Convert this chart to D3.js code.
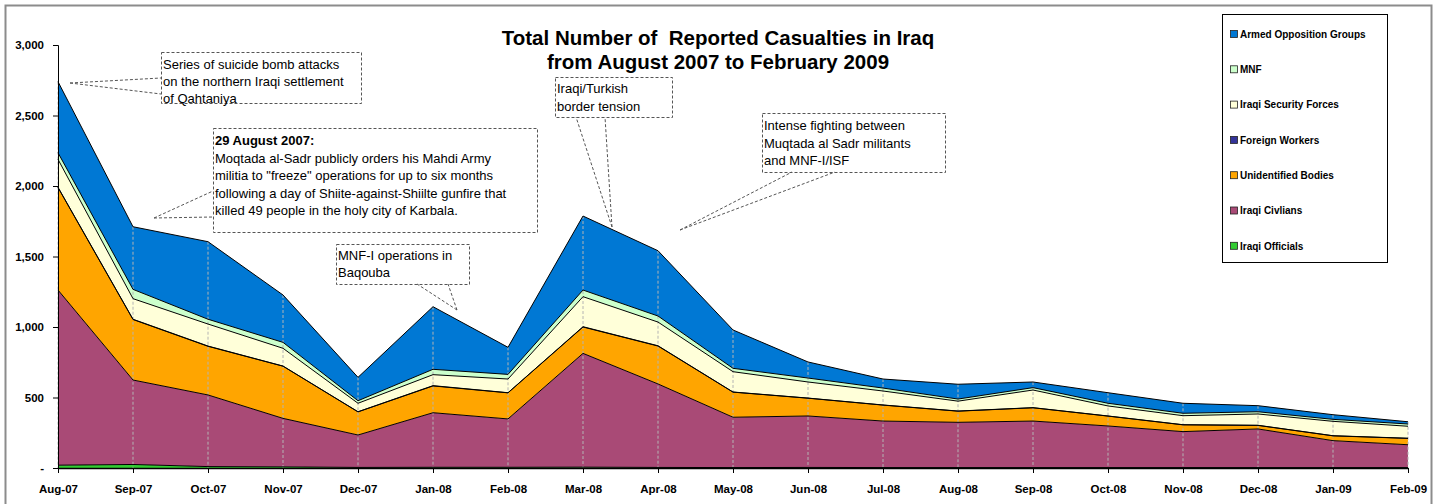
<!DOCTYPE html>
<html><head><meta charset="utf-8">
<script src="https://cdn.jsdelivr.net/npm/d3@7"></script>
<style>body{margin:0;background:#fff}svg{display:block;font-family:"Liberation Sans",Arial,sans-serif}</style>
</head><body><svg id="c" width="1442" height="504"></svg>
<script>
const months = ["Aug-07","Sep-07","Oct-07","Nov-07","Dec-07","Jan-08","Feb-08","Mar-08","Apr-08","May-08","Jun-08","Jul-08","Aug-08","Sep-08","Oct-08","Nov-08","Dec-08","Jan-09","Feb-09"];
const iraqiOfficials   = [20,25,10,8,4,5,5,6,4,3,4,3,3,3,3,3,3,3,3];
const iraqiCivilians   = [1242,599,508,344,230,387,343,807,592,357,365,330,321,330,295,255,274,191,162];
const unidentified     = [727,429,345,370,164,190,185,187,269,178,126,113,79,94,70,48,25,34,45];
const foreignWorkers   = [2,2,2,1,1,2,1,2,2,1,1,1,1,1,1,1,1,1,1];
const iraqiSecurity    = [198,146,156,126,60,78,97,213,168,144,114,99,70,125,71,64,80,102,85];
const mnf              = [47,66,34,42,18,38,33,47,43,24,28,21,15,17,19,17,16,14,16];
const armedOpposition  = [504,444,550,336,166,444,192,525,463,272,114,64,105,40,75,71,43,33,16];
const yTicks = [0,500,1000,1500,2000,2500,3000];
const seriesNames = ["Iraqi Officials","Iraqi Civlians","Unidentified Bodies","Foreign Workers","Iraqi Security Forces","MNF","Armed Opposition Groups"];
const seriesValues = [iraqiOfficials,iraqiCivilians,unidentified,foreignWorkers,iraqiSecurity,mnf,armedOpposition];
const seriesColors = ["#33cc33","#a94a76","#ffa500","#333399","#ffffd9","#ccffcc","#0078d4"];
const titleLines = ["Total Number of  Reported Casualties in Iraq","from August 2007 to February 2009"];

const svg = d3.select("#c");
svg.append("rect").attr("x",5.5).attr("y",5.5).attr("width",1426).attr("height",510)
  .attr("fill","none").attr("stroke","#8c8c8c").attr("stroke-width",2);

const x = d3.scalePoint().domain(months).range([58,1408]);
const y = d3.scaleLinear().domain([0,3000]).range([468,45]);

const rows = months.map((m,i)=>{const r={month:m}; seriesNames.forEach((s,j)=>r[s]=seriesValues[j][i]); return r;});
const stacked = d3.stack().keys(seriesNames)(rows);

const area = d3.area().x(d=>x(d.data.month)).y0(d=>y(d[0])).y1(d=>y(d[1]));
const topLine = d3.line().x(d=>x(d.data.month)).y(d=>y(d[1]));

const g = svg.append("g");
stacked.forEach((s,i)=>{
  g.append("path").attr("d",area(s)).attr("fill",seriesColors[i]);
});
const totals = stacked[stacked.length-1];
g.selectAll("line.drop").data(totals).join("line")
  .attr("x1",d=>x(d.data.month)).attr("x2",d=>x(d.data.month))
  .attr("y1",d=>y(d[1])).attr("y2",y(0))
  .attr("stroke","#b4b4b4").attr("stroke-width",1).attr("stroke-dasharray","3,2");
stacked.forEach((s,i)=>{
  g.append("path").attr("d",topLine(s)).attr("fill","none").attr("stroke","#000").attr("stroke-width",1);
});

const yAxis = d3.axisLeft(y).tickValues(yTicks).tickSize(5).tickFormat(d=>d===0?"-":d3.format(",")(d));
const ya = svg.append("g").attr("transform","translate(58,0)").call(yAxis);
ya.select(".domain").attr("stroke","#000");
ya.selectAll("text").attr("font-size",11.5).attr("font-weight","bold").attr("font-family","Liberation Sans, Arial").attr("dx",-6);
const xAxis = d3.axisBottom(x).tickSize(5).tickPadding(12);
const xa = svg.append("g").attr("transform","translate(0,468)").call(xAxis);
xa.select(".domain").attr("stroke","#000").attr("stroke-width",1.5).attr("d","M58,0.5H1408");
xa.selectAll("text").attr("font-size",11.5).attr("font-weight","bold").attr("font-family","Liberation Sans, Arial");

svg.append("text").attr("x",718).attr("y",45).attr("text-anchor","middle").attr("font-size",20.5).attr("font-weight","bold").attr("xml:space","preserve").text(titleLines[0]);
svg.append("text").attr("x",718).attr("y",69).attr("text-anchor","middle").attr("font-size",20.5).attr("font-weight","bold").text(titleLines[1]);

svg.append("rect").attr("x",1222.5).attr("y",14.5).attr("width",165).attr("height",248).attr("fill","#fff").attr("stroke","#000").attr("stroke-width",1);
const legendOrder = seriesNames.map((n,i)=>({n,c:seriesColors[i]})).reverse();
legendOrder.forEach((d,i)=>{
  const cy = 34 + i*35.3;
  svg.append("rect").attr("x",1230.5).attr("y",cy-3.5).attr("width",7).attr("height",7).attr("fill",d.c).attr("stroke","#222").attr("stroke-width",0.8);
  svg.append("text").attr("x",1240).attr("y",cy+3.8).attr("font-size",10).attr("font-weight","bold").text(d.n);
});

const dashStroke = "#555";
function box(x0,y0,w,h){
  svg.append("rect").attr("x",x0+0.5).attr("y",y0+0.5).attr("width",w).attr("height",h)
    .attr("fill","none").attr("stroke",dashStroke).attr("stroke-width",1).attr("stroke-dasharray","3,2");
}
function leader(tip,a,b){
  [a,b].forEach(p=>svg.append("line").attr("x1",tip[0]).attr("y1",tip[1]).attr("x2",p[0]).attr("y2",p[1])
    .attr("stroke",dashStroke).attr("stroke-width",1).attr("stroke-dasharray","3,2"));
}
function lines(x0,y0,arr,lh,boldFirst){
  arr.forEach((t,i)=>svg.append("text").attr("x",x0).attr("y",y0+i*lh).attr("font-size",13)
    .attr("font-weight",boldFirst&&i===0?"bold":"normal").attr("fill","#000").text(t));
}
box(161,52,200,51);
leader([70,83],[161,78],[161,94]);
lines(163,69,["Series of suicide bomb attacks","on the northern Iraqi settlement","of Qahtaniya"],17,false);
box(213,128,324,104);
leader([154,218],[213,191],[213,217]);
lines(215,145,["29 August 2007:","Moqtada al-Sadr publicly orders his Mahdi Army","militia to \"freeze\" operations for up to six months","following a day of Shiite-against-Shiilte gunfire that","killed 49 people in the holy city of Karbala."],17.6,true);
box(336,244,133,40);
leader([457,310],[417,284],[448,284]);
lines(338,260,["MNF-I operations in","Baqouba"],17,false);
box(555,77,117,40);
leader([612,227],[576,117],[605,117]);
lines(557,93,["Iraqi/Turkish","border tension"],17.6,false);
box(762,113,183,59);
leader([680,230],[792,172],[835,172]);
lines(764,130,["Intense fighting between","Muqtada al Sadr militants","and MNF-I/ISF"],17.6,false);
</script></body></html>
